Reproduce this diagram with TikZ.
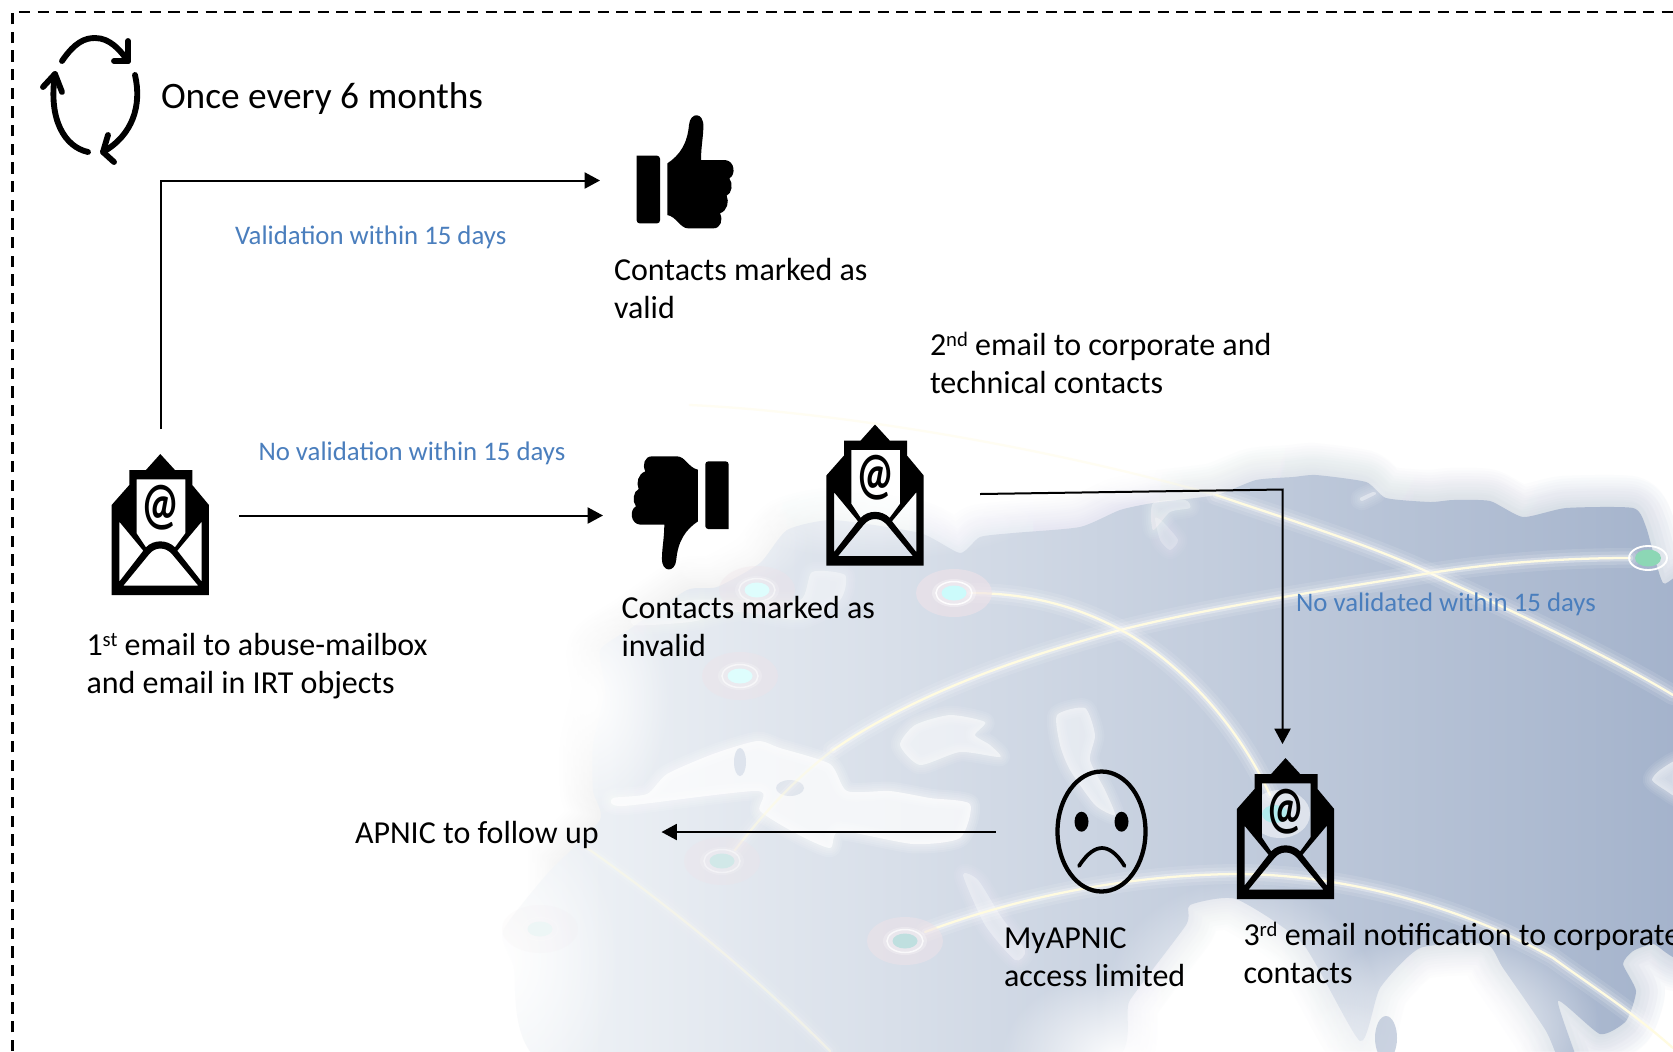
\documentclass[tikz,border=0pt]{standalone}
\usepackage{fontspec}
\setmainfont{Carlito}
\usetikzlibrary{arrows.meta,fadings,calc}
\definecolor{bluelab}{HTML}{4A7EBD}
\definecolor{glowline}{HTML}{FFFBE0}
\definecolor{landL}{HTML}{F2F5F8}
\definecolor{landR}{HTML}{A3B2CB}
\definecolor{halopink}{HTML}{EFE2E8}
\tikzfading[name=softblob, inner color=transparent!0, outer color=transparent!100]
\tikzfading[name=lrfade, left color=transparent!100, right color=transparent!0]
\newcommand{\landcoords}{(1216,495) (1256,480) (1293,477) (1316,475) (1366,482) (1386,498) (1430,502) (1453,500) (1490,501) (1523,517) (1566,508) (1633,508) (1646,527) (1663,583) (1690,590) (1690,944) (1653,944) (1633,951) (1623,964) (1636,991) (1626,1021) (1600,1034) (1558,1001) (1580,1070) (1563,1070) (1546,1031) (1503,968) (1486,944) (1420,948) (1380,988) (1360,1041) (1303,944) (1236,899) (1190,905) (1186,925) (1130,1000) (1090,1070) (560,1070) (513,964) (503,931) (547,874) (600,820) (593,791) (593,744) (605,690) (600,650) (633,627) (687,590) (717,587) (760,563) (787,530) (833,520) (920,533) (960,553) (980,537) (1013,533) (1080,527) (1120,510) (1153,503)}
\newcommand{\sups}[1]{\raisebox{.27em}{\fontsize{15.5}{15.5}\selectfont #1}}
\tikzset{
  x=.75pt, y=-.75pt,
  flow/.style={line width=1.5pt, -{Triangle[length=11.5pt,width=12pt]}},
  lab/.style={anchor=base west, inner sep=0pt, outer sep=0pt, text width=600pt, text=black,
     execute at begin node={\spaceskip=0pt\xspaceskip=0pt\relax},
     font=\fontsize{24}{28.6}\selectfont},
  bluetext/.style={anchor=base west, inner sep=0pt, outer sep=0pt, text=bluelab, font=\fontsize{20.1}{24}\selectfont},
  iconbox/.style={inner sep=0pt, outer sep=0pt, draw=none, fill=none},
  cyc/.style={line width=4.4pt, line cap=round, line join=round},
  seasoft/.style={white, path fading=softblob},
}
% a soft-edged inland sea: opacity, coordinates
\newcommand{\softsea}[2]{%
  \foreach \w in {14,11,8,5,3}{
    \draw[white, opacity=#1*.15, line width=\w pt, line join=round] plot[smooth cycle, tension=.4] coordinates {#2};
  }
  \fill[white, opacity=#1] plot[smooth cycle, tension=.4] coordinates {#2};}
% a line of the map: halo plus bright core
\newcommand{\glow}[2][1]{%
  \draw[white, opacity=.1*#1, line width=15pt, line cap=round] #2;
  \draw[white, opacity=.14*#1, line width=10pt, line cap=round] #2;
  \draw[white, opacity=.3*#1, line width=5pt, line cap=round] #2;
  \draw[glowline, opacity=#1, line width=1.7pt, line cap=round] #2;}
% a node of the map: x, y, halo opacity, teal colour
\newcommand{\mapnode}[4]{%
  \fill[halopink, opacity=#3] (#1,#2) ellipse (38 and 24);
  \fill[white, opacity=#3*.5] (#1,#2) ellipse (22 and 14);
  \draw[white, line width=1.1pt, opacity=#3*1.5] (#1,#2) ellipse (18 and 11.5);
  \fill[#4] (#1,#2) ellipse (12.5 and 7.5);}
% envelope icon: centre x, apex y, name
\newcommand{\mailicon}[3]{%
  \node[iconbox, minimum width=72.5pt, minimum height=106pt] (#3) at (#1,#2+70.5) {};
  \begin{scope}[shift={(#1,#2)}, x=.25pt, y=-.25pt, shift={(-241,-102)}]
    \fill[black, even odd rule]
      (241,102) -- (285,150) -- (337,150) -- (337,195) -- (387,255) -- (387,525) -- (95,525) -- (95,255) -- (148,195) -- (148,150) -- (198,150) -- cycle
      (170,178) -- (316,178) -- (316,340) -- (285,382) .. controls (262,358) and (220,358) .. (198,382) -- (170,340) -- cycle
      (118,305) -- (190,392) -- (118,485) -- cycle
      (365,305) -- (292,392) -- (365,485) -- cycle
      (130,497) -- (208,402) .. controls (226,380) and (256,380) .. (276,402) -- (355,497) -- cycle;
    \node[inner sep=0pt, text=black, font=\fontsize{44}{44}\selectfont\bfseries] (#3at) at (241,262) {\scalebox{.72}[1]{@}};
  \end{scope}}
% thumb icon: centre x, centre y, rotation, name
\newcommand{\thumbicon}[4]{%
  \node[iconbox, minimum width=72.5pt, minimum height=85pt] (#4) at (#1,#2) {};
  \begin{scope}[shift={(#1,#2)}, rotate=#3, x=.25pt, y=-.25pt, shift={(-255,-215)}]
    \fill[black, rounded corners=2.2pt] (110,167) -- (180,167) -- (180,370) -- (110,370) [sharp corners] -- cycle;
    \fill[black] (202,190) .. controls (240,165) and (262,130) .. (267,75) .. controls (270,35) and (312,35) .. (310,80) .. controls (310,110) and (303,140) .. (303,180) -- (375,180) .. controls (405,182) and (408,225) .. (388,235) .. controls (400,250) and (396,280) .. (380,287) .. controls (388,305) and (382,332) .. (360,340) .. controls (370,360) and (362,385) .. (340,385) -- (265,385) .. controls (240,385) and (230,350) .. (202,345) -- cycle;
  \end{scope}}
\begin{document}
\begin{tikzpicture}
\useasboundingbox (0,0) rectangle (1673,1051);
\clip (0,0) rectangle (1673,1051);
\fill[white] (0,0) rectangle (1673,1051);

% ---------- background map ----------
\foreach \w in {4,8,...,48}{
  \draw[landR, opacity=.04, line width=\w pt, line join=round, path fading=lrfade]
    plot[smooth cycle, tension=.35] coordinates {\landcoords};
}
\shade[left color=landL, right color=landR, shading angle=90, draw=none]
  plot[smooth cycle, tension=.35] coordinates {\landcoords};

% lower left fade of Africa and Europe
\fill[seasoft] (500,960) ellipse (120 and 160);
\fill[seasoft] (590,700) ellipse (80 and 120);
\fill[seasoft, opacity=.7] (720,540) ellipse (90 and 50);
\fill[seasoft, opacity=.65] (880,505) ellipse (170 and 55);

% oceans south of Asia
\fill[seasoft] (1240,1010) ellipse (140 and 130);
\fill[seasoft] (1450,1030) ellipse (150 and 100);
\fill[seasoft] (1120,1060) ellipse (120 and 90);
\fill[seasoft, opacity=.5] (1330,1060) ellipse (90 and 60);
% top bay
\fill[seasoft] (1120,470) ellipse (70 and 35);

% inland seas
\softsea{.72}{(613,798) (623,806) (757,791) (760,811) (797,834) (830,848) (840,831) (913,844) (960,838) (970,804) (930,798) (890,791) (847,791) (830,764) (780,748) (757,741) (713,754) (667,774) (647,794)}
\softsea{.55}{(900,745) (915,725) (950,715) (985,722) (975,735) (990,745) (1000,757) (960,752) (920,765)}
\softsea{.5}{(1057,715) (1085,708) (1095,735) (1090,760) (1105,790) (1115,815) (1095,805) (1070,770) (1060,745)}
\softsea{.35}{(963,875) (978,880) (1000,915) (1025,950) (1015,960) (985,925)}
\softsea{.4}{(633,625) (690,622) (740,612) (800,620) (840,600) (845,575) (812,572) (800,600) (740,600) (690,600) (640,610)}
\softsea{.35}{(1153,503) (1185,500) (1190,508) (1170,512) (1153,530)}
\softsea{.25}{(1155,518) (1163,522) (1178,540) (1170,550) (1160,540)}
\softsea{.4}{(1360,498) (1373,492) (1376,494) (1362,501)}
\softsea{.5}{(1680,760) (1660,770) (1652,780) (1665,790) (1680,797)}
\fill[landR!75!white, opacity=.75] (1386,1038) ellipse (11 and 22);
\fill[landL!75!landR] (740,762) ellipse (6 and 14);
\fill[landL!60!landR, opacity=.6] (790,788) ellipse (14 and 8);

% light lines
\glow[.4]{(690,405) .. controls (800,410) and (1000,435) .. (1216,495)}
\glow{(1216,495) .. controls (1290,520) and (1370,545) .. (1430,573) .. controls (1480,597) and (1590,645) .. (1673,695)}
\glow{(1630,558) .. controls (1570,558) and (1500,562) .. (1430,573) .. controls (1330,590) and (1220,605) .. (1120,630) .. controls (1030,655) and (920,690) .. (833,750)}
\glow[.55]{(833,750) .. controls (800,775) and (770,805) .. (735,850)}
\glow{(970,593) .. controls (1040,593) and (1090,612) .. (1130,635) .. controls (1190,672) and (1240,730) .. (1270,795)}
\glow{(925,932) .. controls (1010,900) and (1120,875) .. (1236,874) .. controls (1340,874) and (1460,905) .. (1553,958) .. controls (1590,985) and (1630,1010) .. (1673,1048)}
\glow[.45]{(587,848) .. controls (640,885) and (740,960) .. (830,1051)}

% map nodes
\mapnode{954}{593}{.6}{teal!15!cyan!20!white}
\mapnode{757}{590}{.35}{teal!10!cyan!13!white}
\mapnode{740}{676}{.4}{teal!10!cyan!13!white}
\mapnode{722}{861}{.3}{teal!18!white}
\mapnode{905}{941}{.5}{teal!25!white}
\mapnode{540}{929}{.1}{teal!7!white}
\fill[white, opacity=.5] (1280,814) ellipse (30 and 24);
\fill[teal!35!cyan!35!white, opacity=.8] (1275,814) ellipse (13 and 9);
\draw[white, line width=1.4pt] (1648,558) ellipse (19 and 12);
\fill[green!30!teal!45!white] (1648,558) ellipse (13 and 8.5);

% ---------- frame ----------
\coordinate (frameA) at (12.5,1051);
\coordinate (frameB) at (12.5,12);
\coordinate (frameC) at (1673,12);
\draw[black, line width=1.6pt, dash pattern=on 8.5pt off 5.5pt] (frameA) -- (frameB) -- (frameC);

% ---------- cycle icon ----------
\draw[cyc] (62,61) .. controls (75,42) and (85,38) .. (95,38) .. controls (110,38) and (120,50) .. (128,61);
\draw[cyc] (128,41) -- (128,61) -- (114,61);
\draw[cyc] (135,75) .. controls (142,105) and (133,135) .. (103,152);
\draw[cyc] (108,135) -- (103,152) -- (114,162);
\draw[cyc] (88,152) .. controls (65,147) and (48,120) .. (55,74);
\draw[cyc] (43,87) -- (55,74) -- (62,92);

% ---------- icons ----------
\mailicon{160.3}{454}{mailA}
\mailicon{875}{424.5}{mailB}
\mailicon{1285.5}{758}{mailC}
\thumbicon{685}{171.7}{0}{thumbUp}
\thumbicon{680.3}{513}{180}{thumbDown}
\node[iconbox, minimum width=66pt, minimum height=92pt] (sadface) at (1101.5,831.5) {};
\draw[black, line width=3.2pt] (sadface.center) ellipse (44 and 60);
\fill[black] (1081.5,821.7) ellipse (7 and 10);
\fill[black] (1121.5,821.7) ellipse (7 and 10);
\draw[black, line width=2.8pt, line cap=round] (1079,866) .. controls (1088,852) and (1096,848) .. (1102,848) .. controls (1108,848) and (1116,852) .. (1124.5,866);

% ---------- connector ends ----------
\coordinate (upStart) at (160.5,429);
\coordinate (upCorner) at (160.5,180.5);
\coordinate (upEnd) at (600,180.5);
\coordinate (midStart) at (239,515.5);
\coordinate (midEnd) at (603,515.5);
\coordinate (secStart) at (980,494);
\coordinate (secCorner) at (1282.5,489.5);
\coordinate (secEnd) at (1282.5,744);
\coordinate (sadStart) at (995.5,832);
\coordinate (sadEnd) at (661.5,832);

\draw[flow] (upStart) -- (upCorner) -- (upEnd);
\draw[flow] (midStart) -- (midEnd);
\draw[flow] (secStart) -- (secCorner) -- (secEnd);
\draw[flow] (sadStart) -- (sadEnd);

% ---------- labels ----------
\node[lab, font=\fontsize{28}{34}\selectfont] (onceLabel) at (161,108) {Once every 6 months};
\node[bluetext] (validBlue) at (235,244) {Validation within 15 days};
\node[bluetext] (invalidBlue) at (258.5,460.5) {No validation within 15 days};
\node[bluetext] (noValBlue) at (1296,611) {No validated within 15 days};
\node[lab] (validLabel) at (614,280) {Contacts marked as\\valid};
\node[lab] (secondLabel) at (930,355.5) {2\sups{nd} email to corporate and\\technical contacts};
\node[lab] (invalidLabel) at (621.5,618) {Contacts marked as\\invalid};
\node[lab] (firstLabel) at (86.5,655.5) {1\sups{st} email to abuse-mailbox\\and email in IRT objects};
\node[lab] (apnicLabel) at (355,843) {APNIC to follow up};
\node[lab] (myapnicLabel) at (1004,948.5) {MyAPNIC\\access limited};
\node[lab] (thirdLabel) at (1243.5,945) {3\sups{rd} email notification to corporate\\contacts};
\end{tikzpicture}
\end{document}
